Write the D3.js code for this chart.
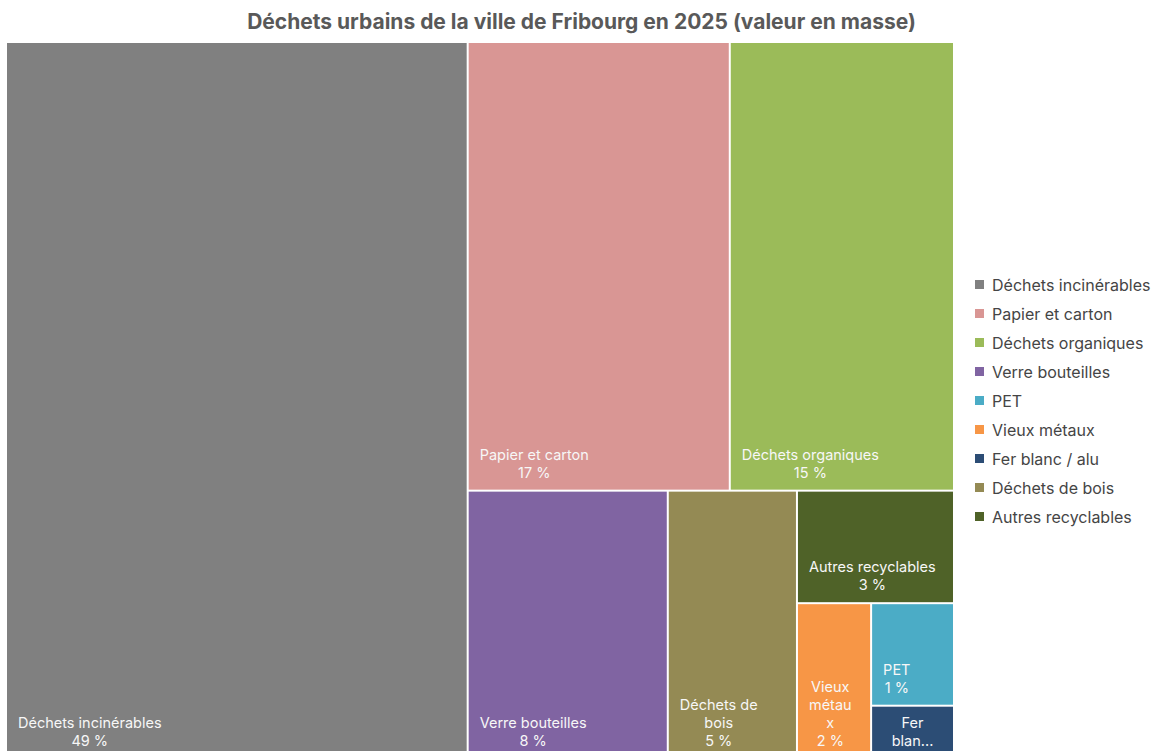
<!DOCTYPE html>
<html>
<head>
<meta charset="utf-8">
<script src="https://cdn.jsdelivr.net/npm/d3@7"></script>
<style>
  body { margin: 0; background: #fff; font-family: Inter, "Noto Sans", sans-serif; }
</style>
</head>
<body>
<div id="chart"></div>
<script>
// categories in legend order
const categories = ["Déchets incinérables", "Papier et carton", "Déchets organiques", "Verre bouteilles",
                    "PET", "Vieux métaux", "Fer blanc / alu", "Déchets de bois", "Autres recyclables"];
// share of the total mass in %
const values = [48.7, 17.3, 14.8, 7.9, 1.25, 1.7, 0.65, 5.1, 2.6];
const colors = ["#808080", "#d99694", "#9bbb59", "#8064a2", "#4bacc6", "#f79646", "#2c4d75", "#948a54", "#4f6228"];

const title = "Déchets urbains de la ville de Fribourg en 2025 (valeur en masse)";

const width = 1157;
const height = 751;

const svg = d3.select("#chart").append("svg")
  .attr("width", width)
  .attr("height", height);

svg.append("text")
  .attr("x", width / 2 + 3)
  .attr("y", 29)
  .attr("text-anchor", "middle")
  .attr("font-size", 21)
  .attr("font-weight", 700)
  .attr("fill", "#595959")
  .text(title);

// TREEMAP

const total = d3.sum(values);
const items = categories.map((c, i) => ({name: c, value: values[i], color: colors[i]}));

const root = d3.hierarchy({children: items})
  .sum(d => d.value || 0)
  .sort((a, b) => b.value - a.value);

d3.treemap()
  .tile(d3.treemapBinary)
  .size([946, 715])
  .paddingInner(2)(root);

const plot = svg.append("g").attr("transform", "translate(7,43)");

const cells = plot.selectAll("g.cell")
  .data(root.leaves())
  .join("g")
  .attr("class", "cell")
  .attr("transform", d => `translate(${d.x0},${d.y0})`);

cells.append("rect")
  .attr("width", d => d.x1 - d.x0)
  .attr("height", d => d.y1 - d.y0)
  .attr("fill", d => d.data.color);

// LABELS

const fontSize = 14.5;
const lineH = 18;
const pad = 11;

const measurer = svg.append("text").attr("font-size", fontSize).attr("visibility", "hidden");
function textWidth(s) {
  measurer.text(s);
  return measurer.node().getComputedTextLength();
}

function wrap(text, maxW) {
  let lines = [];
  let current = "";
  text.split(" ").forEach(word => {
    let test = current ? current + " " + word : word;
    if (textWidth(test) <= maxW) { current = test; return; }
    if (current) lines.push(current);
    current = "";
    // break a word that is too long by characters
    while (textWidth(word) > maxW && word.length > 1) {
      let k = word.length - 1;
      while (k > 1 && textWidth(word.slice(0, k)) > maxW) k--;
      lines.push(word.slice(0, k));
      word = word.slice(k);
    }
    current = word;
  });
  if (current) lines.push(current);
  return lines;
}

cells.each(function(d) {
  const w = d.x1 - d.x0;
  const h = d.y1 - d.y0;
  const maxW = w - 2 * pad;
  let lines = wrap(d.data.name, maxW);
  lines.push(Math.round(d.value / total * 100) + " %");
  let blockW = Math.min(maxW, d3.max(lines, textWidth));
  const maxLines = Math.floor((h - 8) / lineH);
  if (lines.length > maxLines) {
    // not enough room: keep what fits and end with an ellipsis
    let last = lines[maxLines - 1].split(" ")[0].slice(0, -1);
    while (last.length > 1 && textWidth(last + "...") > maxW) last = last.slice(0, -1);
    lines = lines.slice(0, maxLines - 1).concat([last + "..."]);
    blockW = maxW;
  }
  const t = d3.select(this).append("text")
    .attr("font-size", fontSize)
    .attr("fill", "#f7f7f7")
    .attr("text-anchor", "middle");
  lines.forEach((l, i) => {
    t.append("tspan")
      .attr("x", pad + blockW / 2)
      .attr("y", h - 12 - (lines.length - 1 - i) * lineH)
      .text(l);
  });
});
measurer.remove();

// LEGEND

const legend = svg.append("g").attr("transform", "translate(975,285)");
const rows = legend.selectAll("g")
  .data(categories)
  .join("g")
  .attr("transform", (d, i) => `translate(0,${i * 29})`);
rows.append("rect")
  .attr("y", -5)
  .attr("width", 9)
  .attr("height", 9)
  .attr("fill", (d, i) => colors[i]);
rows.append("text")
  .attr("x", 17)
  .attr("y", 5.5)
  .attr("font-size", 16)
  .attr("fill", "#454545")
  .text(d => d);
</script>
</body>
</html>
